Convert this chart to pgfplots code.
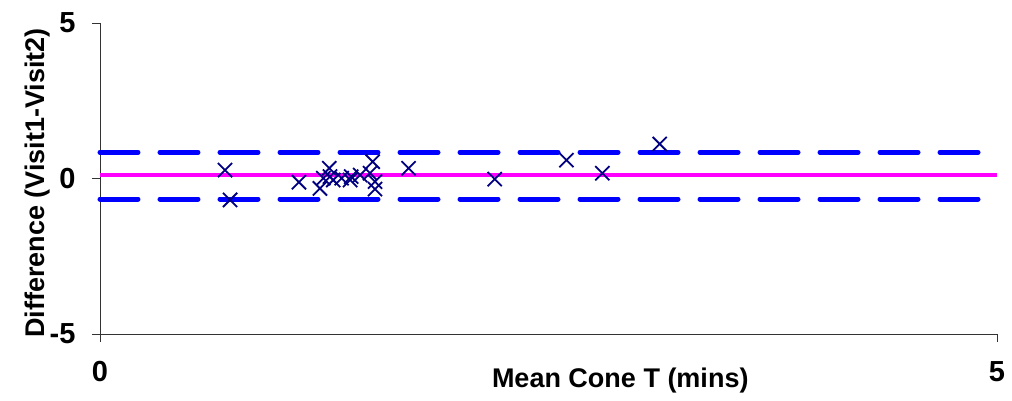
\documentclass[border=0pt]{standalone}
\usepackage{pgfplots}
\pgfplotsset{compat=1.18}
\usepackage{fontspec}
\setmainfont{Liberation Sans}
\definecolor{navyx}{RGB}{0,0,128}
\definecolor{bluel}{RGB}{0,0,255}
\definecolor{magl}{RGB}{255,0,255}
\begin{document}
\begin{tikzpicture}
\begin{axis}[
  scale only axis,
  width=897pt, height=311pt,
  xmin=0, xmax=5, ymin=-5, ymax=5,
  axis x line*=bottom, axis y line*=left,
  axis line style={draw=black!80, line width=0.8pt, -},
  xtick={0,5}, ytick={-5,0,5},
  tick align=outside,
  major tick length=8pt,
  tick style={draw=black!80, line width=0.8pt},
  /pgf/number format/assume math mode=true,
  ticklabel style={font=\fontsize{29}{34}\selectfont\bfseries},
  xticklabel style={anchor=north, yshift=-16pt},
  yticklabel style={anchor=east, xshift=-13pt},
  xlabel={Mean Cone T (mins)},
  ylabel={Difference (Visit1-Visit2)},
  label style={font=\fontsize{27}{32}\selectfont\bfseries},
  xlabel style={at={(rel axis cs:0.58,0)}, anchor=center, yshift=-47pt},
  ylabel style={at={(rel axis cs:0,0.486)}, anchor=center, rotate=0, yshift=62pt},
  clip=false,
]
\addplot[magl, line width=4pt, no marks] coordinates {(0,0.11) (5,0.11)};
\addplot[bluel, line width=5pt, no marks, line cap=round, dash pattern=on 38pt off 22pt] coordinates {(0,0.84) (5,0.84)};
\addplot[bluel, line width=5pt, no marks, line cap=round, dash pattern=on 38pt off 22pt] coordinates {(0,-0.66) (5,-0.66)};
\addplot[only marks, mark=x, mark size=10pt, navyx, mark options={line width=1.8pt}] coordinates {
(0.697,0.27) (0.725,-0.69) (1.109,-0.12) (1.226,-0.32) (1.278,0.33)
(1.245,0.01) (1.282,0.06) (1.30,-0.05) (1.347,0.01) (1.394,-0.05)
(1.40,0.06) (1.45,0.11) (1.505,0.17) (1.52,0.54) (1.533,-0.10)
(1.533,-0.34) (1.72,0.33) (2.20,-0.02) (2.60,0.59) (2.80,0.17) (3.12,1.11)
};
\coordinate (sw) at (rel axis cs:0,0);
\end{axis}
\useasboundingbox (sw) ++(-100pt,-67pt) rectangle ++(1012pt,401pt);
\end{tikzpicture}
\end{document}
